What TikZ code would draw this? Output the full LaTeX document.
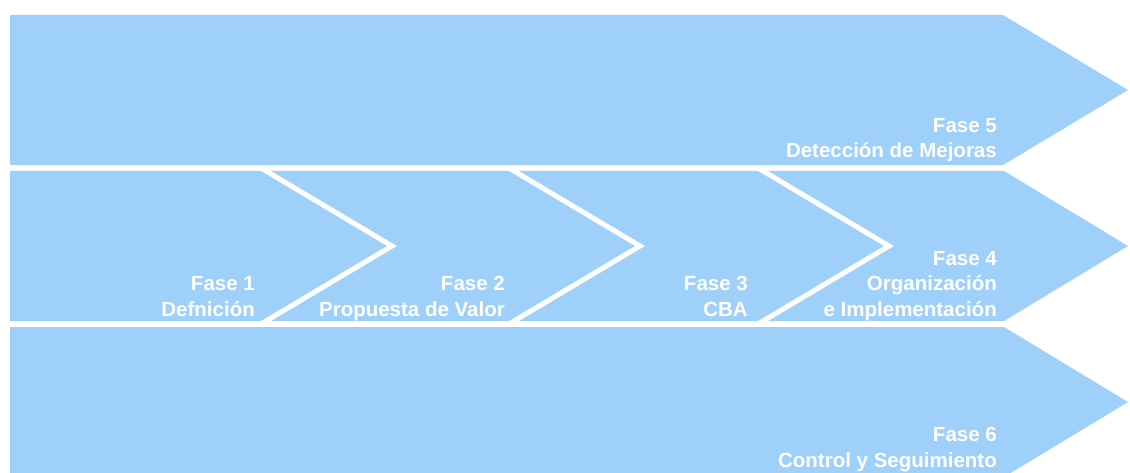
\documentclass[tikz,border=0pt]{standalone}
\usepackage{fontspec}
\setmainfont{Liberation Sans}
\usetikzlibrary{positioning}
\definecolor{faseblue}{RGB}{159,208,250}
\tikzstyle{band} = [fill=faseblue]
\tikzstyle{divider} = [draw=white, line width=5pt]
\tikzstyle{fase} = [text=white, font=\bfseries\fontsize{20.5}{25.5}\selectfont, align=right, anchor=base east, inner sep=0pt]

\begin{document}
\begin{tikzpicture}[x=1pt, y=-1pt]
	\useasboundingbox (0,0) rectangle (1130,473);
	
	% Bands
	\fill [band] (10,15) -- (1003,15) -- (1128,90) -- (1003,165) -- (10,165) -- cycle;
	\fill [band] (10,171) -- (1004,171) -- (1128,246) -- (1004,321) -- (10,321) -- cycle;
	\fill [band] (10,327) -- (1004,327) -- (1128,402) -- (1004,477) -- (10,477) -- cycle;
	
	% Chevrons in the middle band
	\draw [divider] (261,168) -- (392,246) -- (261,324);
	\draw [divider] (509,168) -- (640,246) -- (509,324);
	\draw [divider] (758,168) -- (889,246) -- (758,324);
	
	% Labels
	\node (fase5) [fase] at (997,158) {Fase 5\\Detección de Mejoras};
	\node (fase1) [fase] at (255,316) {Fase 1\\Defnición};
	\node (fase2) [fase] at (505,316) {Fase 2\\Propuesta de Valor};
	\node (fase3) [fase] at (748,316) {Fase 3\\CBA};
	\node (fase4) [fase] at (997,316) {Fase 4\\Organización\\e Implementación};
	\node (fase6) [fase] at (997,467) {Fase 6\\Control y Seguimiento};
	
\end{tikzpicture}
\end{document}
